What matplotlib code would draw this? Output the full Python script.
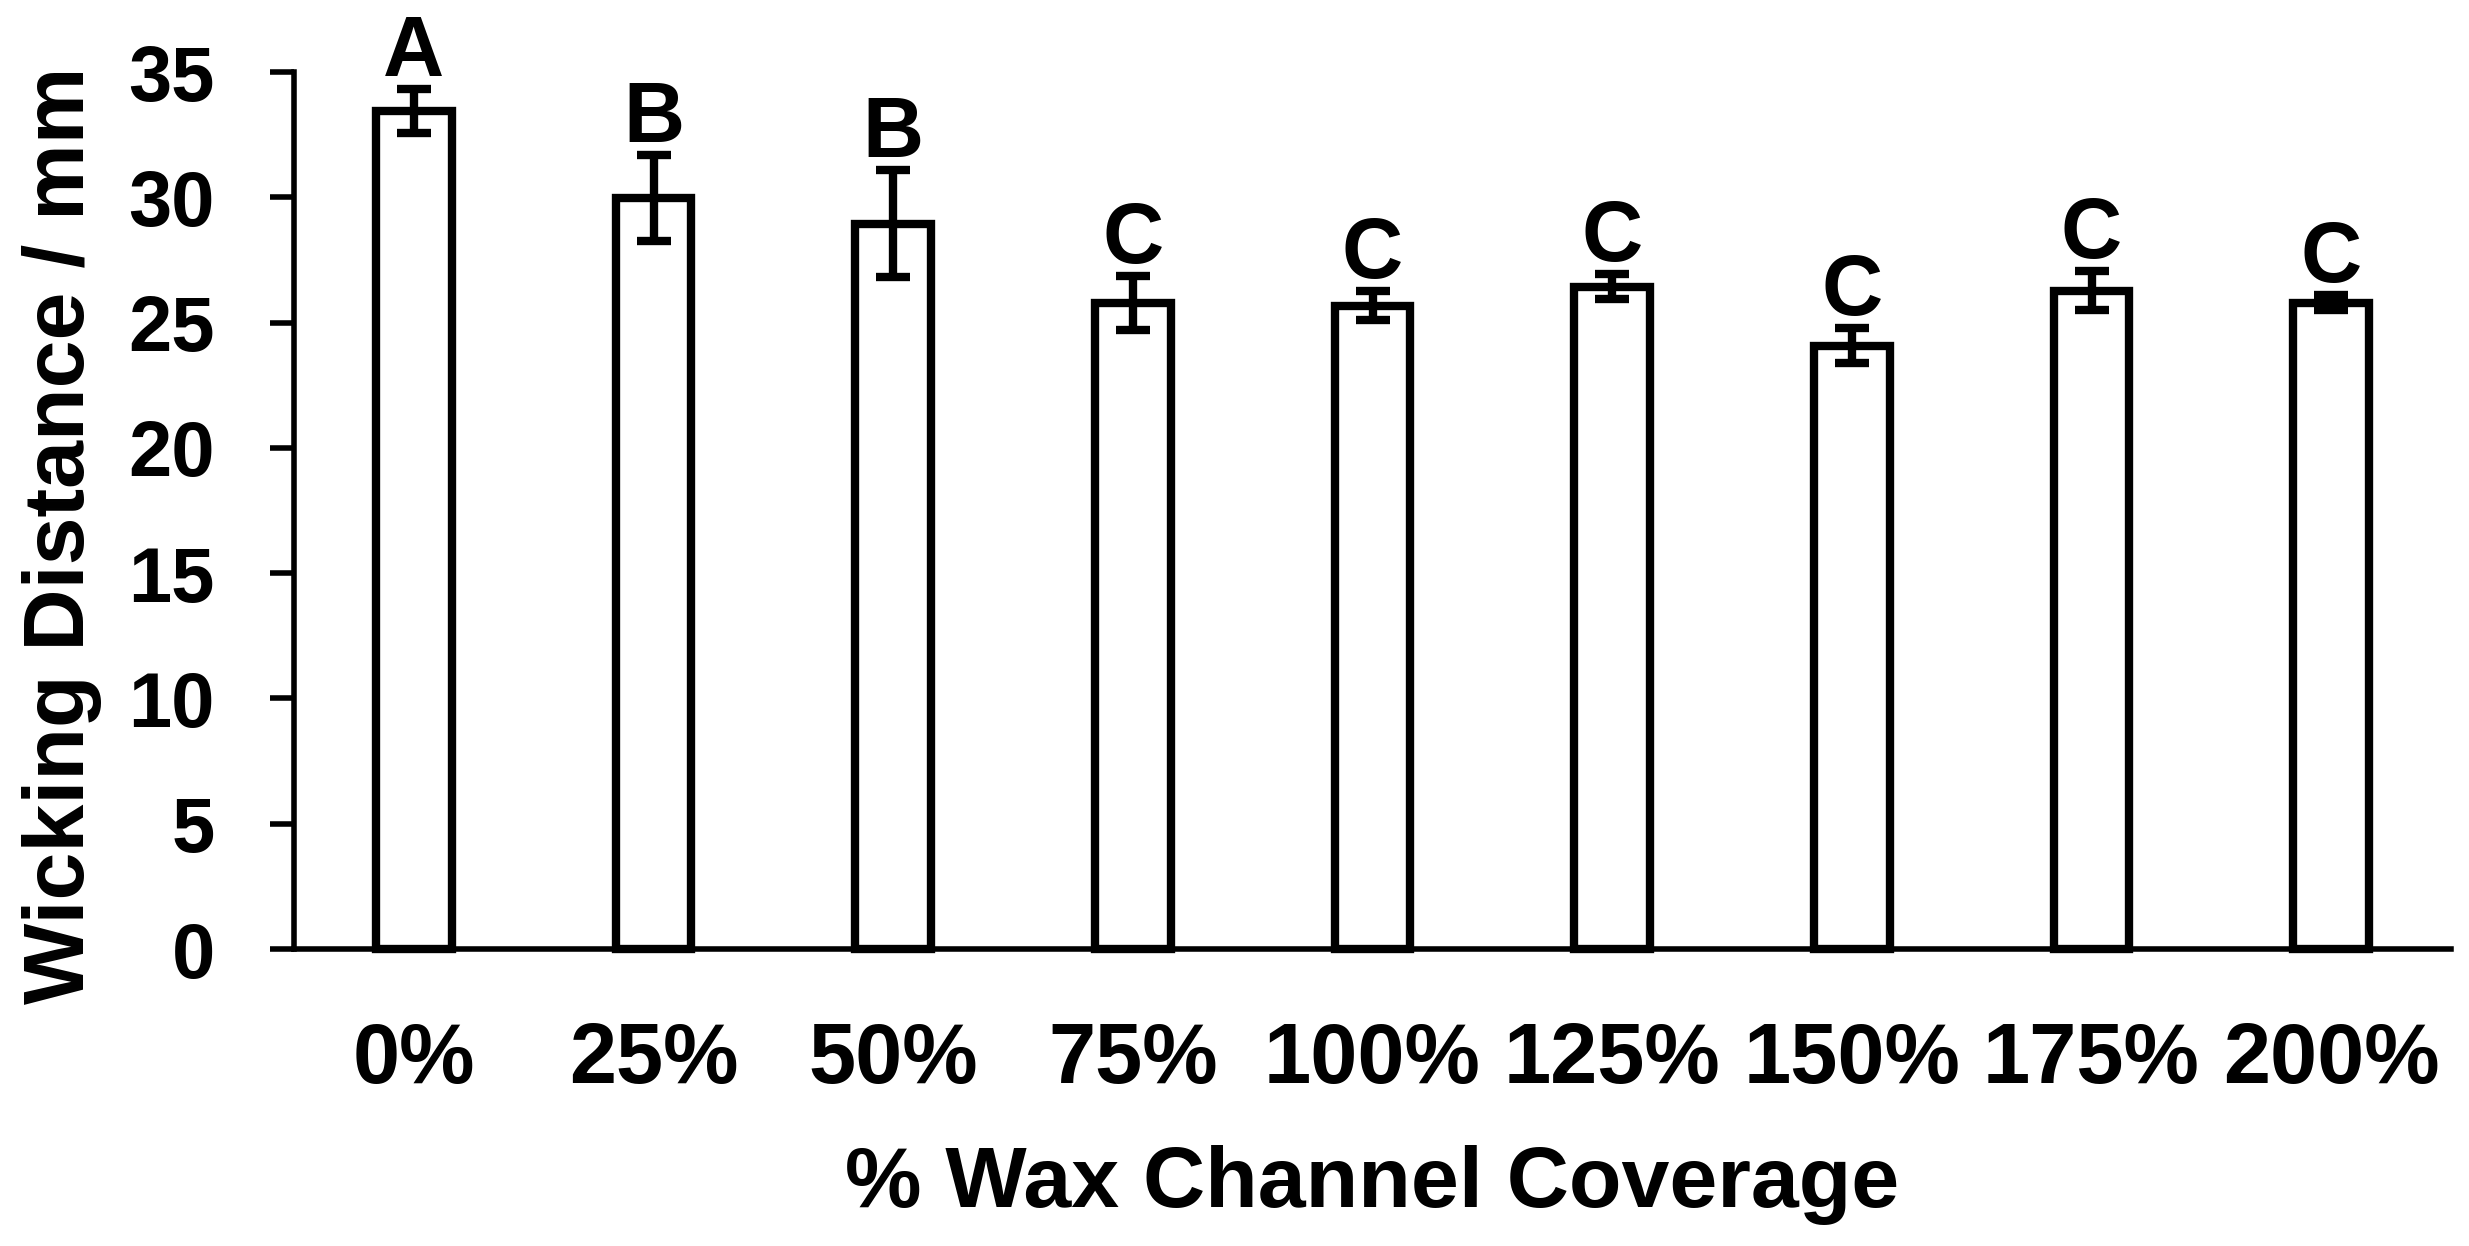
################################################################
# Wicking distance vs wax channel coverage - bar chart
################################################################
import matplotlib as mpl
mpl.use("Agg")
import matplotlib.pyplot as plt
import numpy as np

################################################################
# Data

coverage = ['0%', '25%', '50%', '75%', '100%', '125%', '150%', '175%', '200%']
wick_mm = [33.45, 29.97, 28.95, 25.78, 25.67, 26.43, 24.07, 26.28, 25.80]
wick_err = [0.87, 1.70, 2.15, 1.08, 0.58, 0.50, 0.70, 0.77, 0.29]
groups = ['A', 'B', 'B', 'C', 'C', 'C', 'C', 'C', 'C']

y_ticks = [0, 5, 10, 15, 20, 25, 30, 35]

################################################################
# Style

DPI = 100
W_PX, H_PX = 2469, 1246
LW_BAR, LW_AX = 6.0, 4.0
FS_TICK_X, FS_TICK_Y, FS_LABEL, FS_LETTER = 61, 56, 62, 61

mpl.rcParams['font.family'] = 'Liberation Sans'
plt.rc('font', weight='bold', size=FS_TICK_X)
plt.rc('axes', linewidth=LW_AX)

################################################################
# Plot

x = np.arange(len(coverage))

fig = plt.figure(figsize=(W_PX / DPI, H_PX / DPI), dpi=DPI)
ax = fig.add_axes([0.11908, 0.23836, 0.87364, 0.70385])

ax.bar(x, wick_mm, width=0.315, color='white', edgecolor='black',
       linewidth=LW_BAR, clip_on=False, zorder=2)
ax.errorbar(x, wick_mm, yerr=wick_err, fmt='none', ecolor='black',
            elinewidth=LW_BAR, capsize=12, capthick=LW_BAR,
            clip_on=False, zorder=3)

# significance letters above error bars
for xi, v, e, g in zip(x, wick_mm, wick_err, groups):
    ax.annotate(g, (xi, v + e), xytext=(0, 9.5), textcoords='offset points',
                ha='center', va='baseline', fontsize=FS_LETTER,
                fontweight='bold', annotation_clip=False)

ax.set_xlim(-0.5, 8.5)
ax.set_ylim(0, 35)
ax.set_yticks(y_ticks)
ax.set_xticks(x)
ax.set_xticklabels(coverage)

ax.spines['top'].set_visible(False)
ax.spines['right'].set_visible(False)

ax.tick_params(axis='x', length=0, pad=52, labelsize=FS_TICK_X)
ax.tick_params(axis='y', direction='out', length=17, width=LW_AX,
               pad=40, labelsize=FS_TICK_Y)

ax.set_xlabel('% Wax Channel Coverage', fontsize=FS_LABEL, fontweight='bold')
ax.set_ylabel('Wicking Distance / mm', fontsize=FS_LABEL, fontweight='bold')
ax.xaxis.set_label_coords(0.5, -0.224)
ax.yaxis.set_label_coords(-0.089, 0.472)

fig.savefig('out.png', dpi=DPI)
